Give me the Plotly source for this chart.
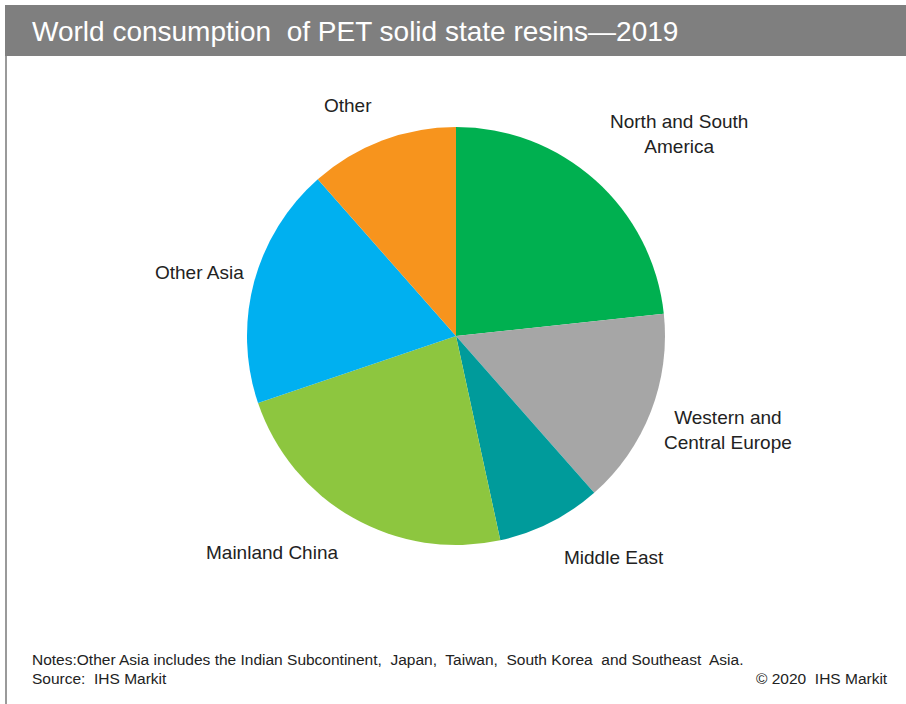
import plotly.graph_objects as go

regions = ["North and South America", "Western and Central Europe", "Middle East",
           "Mainland China", "Other Asia", "Other"]
shares = [23.3, 15.2, 8.1, 23.2, 18.7, 11.5]
colors = ["#00B050", "#A6A6A6", "#009B9B", "#8DC63F", "#00B0F0", "#F7941D"]
label_text = ["North and South<br>America", "Western and<br>Central Europe", "Middle East",
              "Mainland China", "Other Asia", "Other"]
title = "World consumption  of PET solid state resins\u20142019"
note1 = "Notes:Other Asia includes the Indian Subcontinent,  Japan,  Taiwan,  South Korea  and Southeast  Asia."
note2 = "Source:  IHS Markit"
copyright_txt = "\u00a9 2020  IHS Markit"

W, H = 906, 704
cx, cy, r = 456, 336, 209

fig = go.Figure(go.Pie(
    labels=regions, values=shares, sort=False, direction="clockwise", rotation=0,
    marker=dict(colors=colors, line=dict(width=0)),
    textinfo="none", hoverinfo="label+percent", showlegend=False,
    domain=dict(x=[(cx - r) / W, (cx + r) / W], y=[1 - (cy + r) / H, 1 - (cy - r) / H]),
))

# label positions (pixel centres) for each region
label_pos = [(679, 134), (728, 430), (614, 557), (272, 552), (199, 272), (348, 105)]
for txt, (px, py) in zip(label_text, label_pos):
    fig.add_annotation(x=px / W, y=1 - py / H, xref="paper", yref="paper", text=txt,
                       showarrow=False, xanchor="center", yanchor="middle",
                       font=dict(family="Liberation Sans, Arial", size=19, color="#222222"))

# title bar
fig.add_shape(type="rect", xref="paper", yref="paper", x0=5 / W, x1=1, y0=1 - 56 / H, y1=1 - 5 / H,
              fillcolor="#7F7F7F", line=dict(width=0), layer="below")
fig.add_shape(type="line", xref="paper", yref="paper", x0=6 / W, x1=6 / W, y0=0, y1=1 - 56 / H,
              line=dict(color="#9A9A9A", width=2))
fig.add_annotation(x=30 / W, y=1 - 32 / H, xref="paper", yref="paper", text=title, showarrow=False,
                   xanchor="left", yanchor="middle",
                   font=dict(family="Liberation Sans Narrow, Liberation Sans, Arial", size=28, color="white"))

note_font = dict(family="Liberation Sans Narrow, Liberation Sans, Arial", size=15.5, color="#222222")
fig.add_annotation(x=30 / W, y=1 - 659 / H, xref="paper", yref="paper", text=note1, showarrow=False,
                   xanchor="left", yanchor="middle", font=note_font)
fig.add_annotation(x=30 / W, y=1 - 678 / H, xref="paper", yref="paper", text=note2, showarrow=False,
                   xanchor="left", yanchor="middle", font=note_font)
fig.add_annotation(x=890 / W, y=1 - 678 / H, xref="paper", yref="paper", text=copyright_txt, showarrow=False,
                   xanchor="right", yanchor="middle", font=note_font)

fig.update_layout(width=W, height=H, margin=dict(l=0, r=0, t=0, b=0),
                  paper_bgcolor="white", plot_bgcolor="white")
fig.write_html("out.html")
